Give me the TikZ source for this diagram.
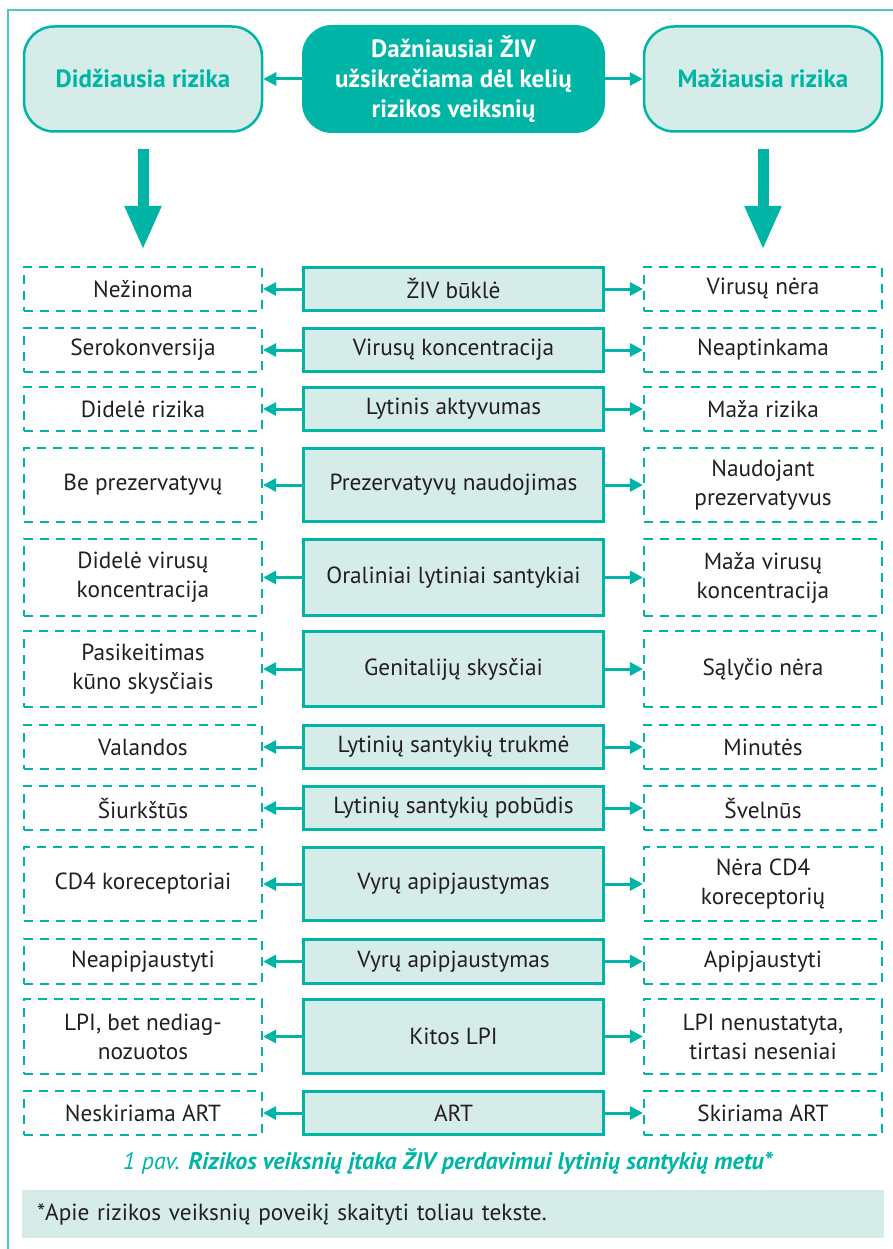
\documentclass[tikz,border=0pt]{standalone}
\usepackage{fontspec}
\setmainfont{PT Sans}
\usetikzlibrary{arrows.meta}

\definecolor{teal1}{HTML}{00B5A5}
\definecolor{tealfill}{HTML}{D6ECE8}
\definecolor{framecol}{HTML}{4CCBBD}
\definecolor{ink}{HTML}{231F20}

\newcommand\bodyfont{\fontsize{23.3}{29}\selectfont}
\newcommand\headfont{\fontsize{25}{30}\selectfont\bfseries}

\tikzset{
  factor/.style={draw=teal1, line width=3pt, fill=tealfill, text=ink,
    font=\bodyfont, align=center, inner sep=0pt, minimum width=300pt},
  outcome/.style={draw=teal1, line width=2.2pt, dash pattern=on 9pt off 7pt,
    text=ink, font=\bodyfont, align=center, inner sep=0pt, minimum width=238pt},
  link/.style={draw=teal1, line width=3pt, -{Triangle[length=13pt,width=13pt]}},
  bigarrow/.style={draw=teal1, line width=11pt, -{Triangle[length=44pt,width=34pt]}},
  riskhead/.style={draw=teal1, line width=2.5pt, fill=tealfill, rounded corners=30pt,
    minimum width=238pt, minimum height=105pt, text=teal1, font=\headfont, align=center},
  mainhead/.style={fill=teal1, rounded corners=30pt, minimum width=303pt,
    minimum height=108pt, text=white, font=\headfont, align=center},
}

% one row: factor in the middle, outcomes left (higher risk) and right (lower risk)
\newcommand\riskrow[6]{%
  \node[factor, minimum height={(#3-#2-3)*1pt}] (c#1) at (453.5,{(#2+#3)/2}) {#5};
  \node[outcome, minimum height={(#3-#2-2)*1pt}] (l#1) at (143,{(#2+#3)/2}) {#4};
  \node[outcome, minimum height={(#3-#2-2)*1pt}] (r#1) at (763,{(#2+#3)/2}) {#6};
  \draw[link] (c#1.west) -- (l#1.east);
  \draw[link] (c#1.east) -- (r#1.west);
}

\begin{document}
\begin{tikzpicture}[x=1pt, y=-1pt]
  \useasboundingbox (0,0) rectangle (893,1249);

  % page frame
  \draw[framecol, line width=1.5pt] (8,1249) -- (8,10) -- (893,10);

  % headings
  \node[mainhead] (mid) at (453.5,79) {Dažniausiai ŽIV\\užsikrečiama dėl kelių\\rizikos veiksnių};
  \node[riskhead] (hi) at (143,79) {Didžiausia rizika};
  \node[riskhead] (lo) at (763,79) {Mažiausia rizika};
  \draw[link] (mid.west) -- (hi.east);
  \draw[link] (mid.east) -- (lo.west);

  % factor rows
  \riskrow{1}{266}{312}{Nežinoma}{ŽIV būklė}{Virusų nėra}
  \riskrow{2}{327}{373}{Serokonversija}{Virusų koncentracija}{Neaptinkama}
  \riskrow{3}{386}{432}{Didelė rizika}{Lytinis aktyvumas}{Maža rizika}
  \riskrow{4}{447}{523}{Be prezervatyvų}{Prezervatyvų naudojimas}{Naudojant\\prezervatyvus}
  \riskrow{5}{538}{617}{Didelė virusų\\koncentracija}{Oraliniai lytiniai santykiai}{Maža virusų\\koncentracija}
  \riskrow{6}{630}{708}{Pasikeitimas\\kūno skysčiais}{Genitalijų skysčiai}{Sąlyčio nėra}
  \riskrow{7}{724}{770}{Valandos}{Lytinių santykių trukmė}{Minutės}
  \riskrow{8}{785}{831}{Šiurkštūs}{Lytinių santykių pobūdis}{Švelnūs}
  \riskrow{9}{846}{922}{CD4 koreceptoriai}{Vyrų apipjaustymas}{Nėra CD4\\koreceptorių}
  \riskrow{10}{938}{985}{Neapipjaustyti}{Vyrų apipjaustymas}{Apipjaustyti}
  \riskrow{11}{998}{1075}{LPI, bet nediag-\\nozuotos}{Kitos LPI}{LPI nenustatyta,\\tirtasi neseniai}
  \riskrow{12}{1090}{1136}{Neskiriama ART}{ART}{Skiriama ART}

  % downward arrows from the two risk headings
  \draw[bigarrow] ([yshift=-16pt]hi.south) -- ([yshift=16pt]l1.north);
  \draw[bigarrow] ([yshift=-16pt]lo.south) -- ([yshift=16pt]r1.north);

  % caption
  \node[text=teal1, font=\fontsize{24}{28}\selectfont] (cap) at (448,1162)
    {\textit{1 pav.} \textbf{\textit{Rizikos veiksnių įtaka ŽIV perdavimui lytinių santykių metu*}}};

  % footnote
  \node[fill=tealfill, minimum width=862pt, minimum height=48pt, anchor=north west,
        text width=832pt, inner xsep=15pt, align=left, text=ink, font=\bodyfont]
    (note) at (22,1190) {*Apie rizikos veiksnių poveikį skaityti toliau tekste.};
\end{tikzpicture}
\end{document}
